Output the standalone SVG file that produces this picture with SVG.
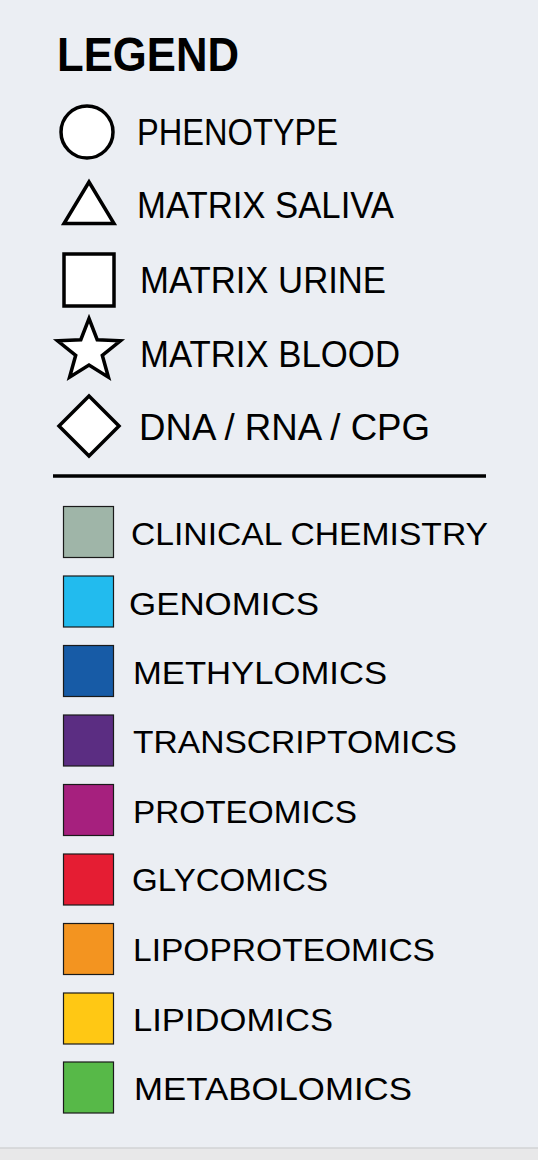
<svg xmlns="http://www.w3.org/2000/svg" width="538" height="1160" viewBox="0 0 538 1160">
<style>
text{font-family:"Liberation Sans",Arial,sans-serif;fill:#000}
.title{font-weight:bold;font-size:49px}
.sl{font-size:36px}
.cl{font-size:31px}
.shape{fill:#fff;stroke:#000;stroke-width:3.5;stroke-linejoin:miter}
.sw{stroke:#1a1a1a;stroke-width:1.2}
</style>
<rect x="0" y="0" width="538" height="1160" fill="#EBEEF3"/>
<rect x="0" y="1148" width="538" height="12" fill="#E8E8E9"/>
<line x1="0" y1="1148" x2="538" y2="1148" stroke="#D2D3D5" stroke-width="1.5"/>

<g id="title"><text class="title" x="57" y="70.5" textLength="182" lengthAdjust="spacingAndGlyphs">LEGEND</text></g>

<g id="phenotype">
<circle class="shape" cx="87" cy="132" r="26"/>
<text class="sl" x="137" y="145" textLength="201" lengthAdjust="spacingAndGlyphs">PHENOTYPE</text>
</g>
<g id="saliva">
<polygon class="shape" points="89,182 114,223.5 64,223.5"/>
<text class="sl" x="137" y="218" textLength="257" lengthAdjust="spacingAndGlyphs">MATRIX SALIVA</text>
</g>
<g id="urine">
<rect class="shape" x="64" y="254" width="50" height="52"/>
<text class="sl" x="140" y="292.5" textLength="246" lengthAdjust="spacingAndGlyphs">MATRIX URINE</text>
</g>
<g id="blood">
<polygon class="shape" points="89,318.5 97.2,339.7 120.4,340.8 102.3,355.3 108.4,377.2 89,365.0 69.6,377.2 75.7,355.3 57.6,340.8 80.8,339.7"/>
<text class="sl" x="140" y="367" textLength="260" lengthAdjust="spacingAndGlyphs">MATRIX BLOOD</text>
</g>
<g id="dna">
<polygon class="shape" points="89,396 119,426 89,456 59,426"/>
<text class="sl" x="139" y="440" textLength="291" lengthAdjust="spacingAndGlyphs">DNA / RNA / CPG</text>
</g>

<g id="divider"><line x1="53" y1="476" x2="486" y2="476" stroke="#000" stroke-width="3.5"/></g>

<g id="clinical"><rect class="sw" x="63.5" y="506.5" width="50" height="51" fill="#9FB5A8"/>
<text class="cl" x="131" y="545" textLength="357" lengthAdjust="spacingAndGlyphs">CLINICAL CHEMISTRY</text></g>
<g id="genomics"><rect class="sw" x="63.5" y="576" width="50" height="51" fill="#22BBEE"/>
<text class="cl" x="129" y="614.5" textLength="190" lengthAdjust="spacingAndGlyphs">GENOMICS</text></g>
<g id="methylomics"><rect class="sw" x="63.5" y="645.5" width="50" height="51" fill="#175BA6"/>
<text class="cl" x="133" y="684" textLength="254" lengthAdjust="spacingAndGlyphs">METHYLOMICS</text></g>
<g id="transcriptomics"><rect class="sw" x="63.5" y="715" width="50" height="51" fill="#5B2D82"/>
<text class="cl" x="133" y="753" textLength="324" lengthAdjust="spacingAndGlyphs">TRANSCRIPTOMICS</text></g>
<g id="proteomics"><rect class="sw" x="63.5" y="784.5" width="50" height="51" fill="#A6207E"/>
<text class="cl" x="133" y="822.5" textLength="224" lengthAdjust="spacingAndGlyphs">PROTEOMICS</text></g>
<g id="glycomics"><rect class="sw" x="63.5" y="854" width="50" height="51" fill="#E51D33"/>
<text class="cl" x="132" y="891" textLength="196" lengthAdjust="spacingAndGlyphs">GLYCOMICS</text></g>
<g id="lipoproteomics"><rect class="sw" x="63.5" y="923.5" width="50" height="51" fill="#F39420"/>
<text class="cl" x="133" y="961" textLength="302" lengthAdjust="spacingAndGlyphs">LIPOPROTEOMICS</text></g>
<g id="lipidomics"><rect class="sw" x="63.5" y="993" width="50" height="51" fill="#FFC814"/>
<text class="cl" x="133" y="1030.5" textLength="200" lengthAdjust="spacingAndGlyphs">LIPIDOMICS</text></g>
<g id="metabolomics"><rect class="sw" x="63.5" y="1062" width="50" height="51" fill="#57B948"/>
<text class="cl" x="134" y="1100" textLength="278" lengthAdjust="spacingAndGlyphs">METABOLOMICS</text></g>
</svg>
